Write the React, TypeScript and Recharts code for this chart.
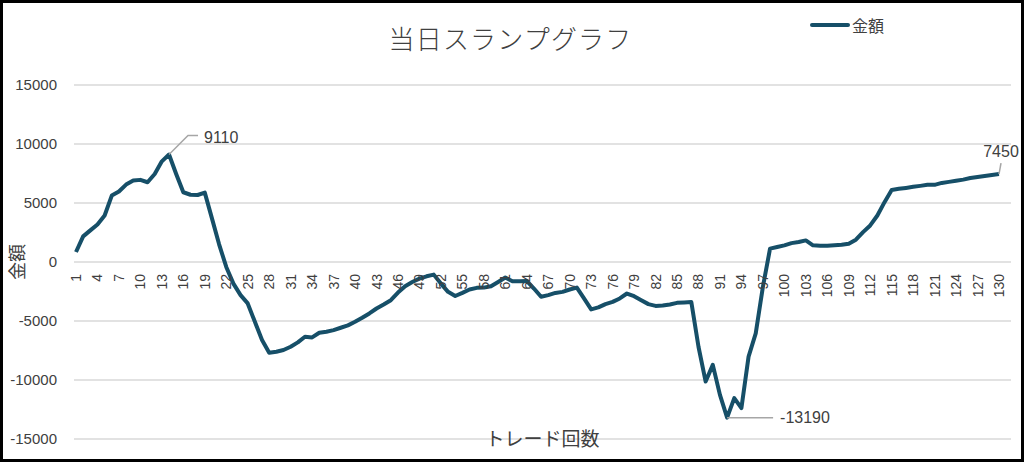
import React from "react"
import { LineChart, Line, XAxis, YAxis, CartesianGrid, Legend, LabelList } from "recharts"

// trade numbers 1..130 (category axis)
const trades = Array.from({ length: 130 }, (_, i) => i + 1)

// 金額 per trade
const amounts = [
  850, 2170, 2680, 3180, 3940, 5630, 5970, 6560, 6900, 6960,
  6760, 7460, 8530, 9110, 7460, 5910, 5700, 5680, 5880, 3700,
  1500, -420, -1830, -2810, -3510, -5070, -6610, -7690, -7600, -7460,
  -7180, -6810, -6330, -6390, -6000, -5910, -5770, -5570, -5370, -5070,
  -4730, -4360, -3940, -3600, -3240, -2590, -2050, -1690, -1410, -1210,
  -1070, -1830, -2530, -2880, -2620, -2330, -2190, -2170, -2050, -1690,
  -1320, -1630, -1630, -1600, -2250, -2950, -2810, -2620, -2530, -2330,
  -2170, -3090, -4020, -3850, -3570, -3380, -3090, -2670, -2900, -3240,
  -3570, -3720, -3690, -3600, -3460, -3430, -3400, -7180, -10130, -8720,
  -11260, -13190, -11540, -12380, -8020, -6050, -2110, 1130, 1270, 1410,
  1600, 1690, 1830, 1410, 1370, 1370, 1410, 1460, 1550, 1890,
  2530, 3100, 3940, 5070, 6110, 6200, 6280, 6370, 6450, 6540,
  6540, 6700, 6790, 6880, 6980, 7120, 7210, 7290, 7380, 7450,
]

const yTicks = [-15000, -10000, -5000, 0, 5000, 10000, 15000]
// trades that carry a data label (max, min, last)
const labeledTrades = [14, 92, 130]

const data = trades.map((t, i) => ({ trade: t, amount: amounts[i] }))

const W = 1024
const H = 462
const LEGEND_H = 24
const X_AXIS_H = 1
const MARGIN = { top: 61, right: 13, bottom: 22, left: 0 }
const PLOT_TOP = MARGIN.top + LEGEND_H
const PLOT_H = H - PLOT_TOP - MARGIN.bottom - X_AXIS_H
const Y_MIN = -15000
const Y_MAX = 15000
// the category axis crosses the value axis at 0
const zeroY = PLOT_TOP + (PLOT_H * Y_MAX) / (Y_MAX - Y_MIN)

const LINE = "#164f68"
const TEXT = "#404040"
const LATIN = '"Liberation Sans", Arial, sans-serif'
const JP = '"Noto Sans CJK JP", "Noto Sans CJK SC", sans-serif'

const TradeTick = (props: any) => {
  const { x, payload } = props
  const y = zeroY + 12
  return (
    <text
      x={x}
      y={y}
      transform={`rotate(-90, ${x}, ${y})`}
      textAnchor="end"
      dominantBaseline="central"
      fontSize={14}
      fontFamily={LATIN}
      fill={TEXT}
    >
      {payload.value}
    </text>
  )
}

const PointLabel = (props: any) => {
  const { x, y, value, index } = props
  const trade = trades[index]
  if (!labeledTrades.includes(trade)) return null
  const common = { fontSize: 16, fontFamily: LATIN, fill: TEXT, dominantBaseline: "central" as const }
  if (trade === trades[trades.length - 1]) {
    return (
      <g>
        <polyline points={`${x},${y} ${x + 2},${y - 11}`} fill="none" stroke="#a6a6a6" strokeWidth={1.5} />
        <text x={x + 2} y={y - 23} textAnchor="middle" {...common}>{value}</text>
      </g>
    )
  }
  if (value < 0) {
    return (
      <g>
        <polyline points={`${x},${y} ${x + 46},${y}`} fill="none" stroke="#a6a6a6" strokeWidth={1.5} />
        <text x={x + 53} y={y} textAnchor="start" {...common}>{value}</text>
      </g>
    )
  }
  return (
    <g>
      <polyline points={`${x},${y} ${x + 19},${y - 19} ${x + 29},${y - 19}`} fill="none" stroke="#a6a6a6" strokeWidth={1.5} />
      <text x={x + 35} y={y - 17} textAnchor="start" {...common}>{value}</text>
    </g>
  )
}

const LegendBox = (props: any) => {
  const item = props.payload?.[0]
  return (
    <div style={{ height: LEGEND_H, display: "flex", alignItems: "center", fontFamily: JP, fontSize: 16, color: TEXT }}>
      <svg width={40} height={8} style={{ display: "block" }}>
        <line x1={2} y1={4} x2={38} y2={4} stroke={LINE} strokeWidth={4} strokeLinecap="round" />
      </svg>
      <span style={{ marginLeft: 2 }}>{item ? item.value : "金額"}</span>
    </div>
  )
}

export default function App() {
  return (
    <div style={{ position: "relative", width: W, height: H, background: "#fff", overflow: "hidden" }}>
      <style>{`body{margin:0}`}</style>
      <div
        style={{
          position: "absolute",
          top: 24,
          left: 0,
          width: 1021,
          textAlign: "center",
          fontFamily: JP,
          fontWeight: 300,
          fontSize: 26,
          lineHeight: "28px",
          letterSpacing: 1.2,
          color: TEXT,
        }}
      >
        当日スランプグラフ
      </div>
      <LineChart width={W} height={H} data={data} margin={MARGIN}>
        <CartesianGrid vertical={false} stroke="#d9d9d9" strokeWidth={1.5} />
        <XAxis
          dataKey="trade"
          height={X_AXIS_H}
          interval={2}
          axisLine={false}
          tickLine={false}
          padding={{ left: 2, right: 12 }}
          tick={<TradeTick />}
          label={{ value: "トレード回数", position: "center", fontSize: 19, fontFamily: JP, fill: TEXT }}
        />
        <YAxis
          width={74}
          domain={[Y_MIN, Y_MAX]}
          ticks={yTicks}
          axisLine={false}
          tickLine={false}
          tickSize={0}
          tickMargin={17}
          tick={{ fontSize: 15, fontFamily: LATIN, fill: TEXT }}
          label={{ value: "金額", angle: -90, position: "center", dx: -19, fontSize: 18, fontFamily: JP, fill: TEXT }}
        />
        <Legend
          verticalAlign="top"
          align="right"
          content={<LegendBox />}
          wrapperStyle={{ top: 13, left: 810, right: "auto", width: "auto" }}
        />
        <Line
          type="linear"
          dataKey="amount"
          name="金額"
          stroke={LINE}
          strokeWidth={4}
          strokeLinejoin="round"
          dot={false}
          activeDot={false}
          isAnimationActive={false}
        >
          <LabelList dataKey="amount" content={<PointLabel />} />
        </Line>
      </LineChart>
      <div
        style={{
          position: "absolute",
          inset: 0,
          border: "3px solid #000",
          boxSizing: "border-box",
          pointerEvents: "none",
        }}
      />
    </div>
  )
}
